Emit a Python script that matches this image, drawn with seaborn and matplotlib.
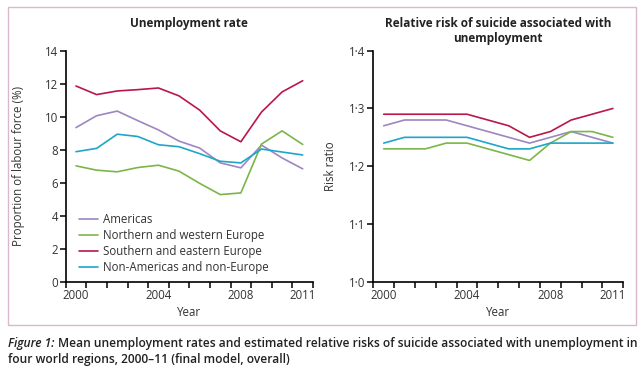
"""
Unemployment rates and relative risk of suicide by world region, 2000-11.
"""
import matplotlib
matplotlib.use("Agg")
import matplotlib.pyplot as plt
import numpy as np
import pandas as pd
import seaborn as sns
from matplotlib import ticker, font_manager
from matplotlib.patches import Rectangle

years = list(range(2000, 2012))
regions = ["Americas", "Northern and western Europe",
           "Southern and eastern Europe", "Non-Americas and non-Europe"]

# unemployment rate (% of labour force)
unemp_americas = [9.34, 10.06, 10.34, 9.76, 9.2, 8.52, 8.1, 7.2, 6.9, 8.28, 7.5, 6.84]
unemp_nw_europe = [7.02, 6.76, 6.66, 6.92, 7.06, 6.7, 5.96, 5.28, 5.38, 8.34, 9.14, 8.32]
unemp_se_europe = [11.86, 11.34, 11.56, 11.64, 11.74, 11.26, 10.4, 9.14, 8.48, 10.28, 11.5, 12.18]
unemp_other = [7.88, 8.08, 8.94, 8.8, 8.3, 8.18, 7.76, 7.3, 7.2, 8.04, 7.86, 7.68]

# relative risk of suicide associated with unemployment
rr_americas = [1.27, 1.28, 1.28, 1.28, 1.27, 1.26, 1.25, 1.24, 1.25, 1.26, 1.25, 1.24]
rr_nw_europe = [1.23, 1.23, 1.23, 1.24, 1.24, 1.23, 1.22, 1.21, 1.24, 1.26, 1.26, 1.25]
rr_se_europe = [1.29, 1.29, 1.29, 1.29, 1.29, 1.28, 1.27, 1.25, 1.26, 1.28, 1.29, 1.30]
rr_other = [1.24, 1.25, 1.25, 1.25, 1.25, 1.24, 1.23, 1.23, 1.24, 1.24, 1.24, 1.24]

year_labels = [2000, 2004, 2008, 2011]
colors = ["#9e86c0", "#7ab648", "#b8174a", "#1ea6c8"]


def _long(series):
    rows = []
    for reg, vals in zip(regions, series):
        for y, v in zip(years, vals):
            rows.append({"year": y, "value": v, "region": reg})
    return pd.DataFrame(rows)


unemp = _long([unemp_americas, unemp_nw_europe, unemp_se_europe, unemp_other])
risk = _long([rr_americas, rr_nw_europe, rr_se_europe, rr_other])

sns.set_theme(style="white")
plt.rcParams["font.family"] = ["Open Sans", "DejaVu Sans"]
plt.rcParams["axes.unicode_minus"] = False

installed = {f.name for f in font_manager.fontManager.ttflist}
cap_family = "Liberation Sans Narrow" if "Liberation Sans Narrow" in installed else "Open Sans"

W, H = 640, 374
fig = plt.figure(figsize=(W / 100, H / 100), dpi=100)


def px_axes(x0, y0, x1, y1):
    return fig.add_axes([x0 / W, 1 - y1 / H, (x1 - x0) / W, (y1 - y0) / H])


ax1 = px_axes(65.7, 50.7, 313, 281.7)
ax2 = px_axes(373.3, 50.7, 623.3, 281.7)
pal = dict(zip(regions, colors))

sns.lineplot(data=unemp, x="year", y="value", hue="region", palette=pal,
             hue_order=regions, lw=1.2, ax=ax1)
sns.lineplot(data=risk, x="year", y="value", hue="region", palette=pal,
             hue_order=regions, lw=1.2, ax=ax2, legend=False)

for ax in (ax1, ax2):
    ax.set_xlim(1999.5, 2011.5)
    ax.xaxis.set_major_locator(ticker.FixedLocator(np.arange(1999.5, 2012, 1)))
    ax.xaxis.set_major_formatter(ticker.NullFormatter())
    ax.xaxis.set_minor_locator(ticker.FixedLocator(year_labels))
    ax.xaxis.set_minor_formatter(ticker.FixedFormatter([str(y) for y in year_labels]))
    ax.tick_params(axis="x", which="major", direction="out", length=4, width=1.1,
                   color="black", bottom=True)
    ax.tick_params(axis="x", which="minor", length=0, pad=5, labelsize=8.3,
                   labelcolor="#333333", bottom=True)
    ax.tick_params(axis="y", direction="out", length=4, width=1.1, color="black",
                   left=True, labelsize=8.3, labelcolor="#333333", pad=1.5)
    for side in ("top", "right"):
        ax.spines[side].set_visible(False)
    for side in ("left", "bottom"):
        ax.spines[side].set_color("black")
        ax.spines[side].set_linewidth(1.2)
    ax.set_xlabel("Year", fontsize=8.3, color="#333333")
    ax.xaxis.set_label_coords(0.5, -0.105)
    ax.xaxis.label.set_va("top")

ax1.set_ylim(0, 14)
ax1.set_yticks(np.arange(0, 15, 2))
ax1.set_ylabel("Proportion of labour force (%)", fontsize=8.3, color="#333333")
ax1.yaxis.set_label_coords(-0.165, 0.5)

ax2.set_ylim(1.0, 1.4)
ax2.set_yticks([1.0, 1.1, 1.2, 1.3, 1.4])
ax2.yaxis.set_major_formatter(ticker.FuncFormatter(lambda v, p: f"{v:.1f}".replace(".", "\u00b7")))
ax2.set_ylabel("Risk ratio", fontsize=8.3, color="#333333")
ax2.yaxis.set_label_coords(-0.145, 0.5)

ax1.text(0.5, 1.146, "Unemployment rate", transform=ax1.transAxes, ha="center",
         va="top", fontsize=8.5, fontweight="bold", color="#222222")
ax2.text(0.5, 1.146, "Relative risk of suicide associated with\nunemployment",
         transform=ax2.transAxes, ha="center", va="top", fontsize=8.5,
         fontweight="bold", color="#222222", linespacing=1.25)

leg = ax1.legend(loc="lower left", bbox_to_anchor=(0.02, 0.0), frameon=False,
                 fontsize=8.3, handlelength=1.65, handletextpad=0.45,
                 labelspacing=0.25, borderaxespad=0.3)
for t in leg.get_texts():
    t.set_color("#333333")

# pink frame round the two panels
fig.add_artist(Rectangle((8 / W, 1 - 325 / H), 628 / W, 318 / H, transform=fig.transFigure,
                         fill=False, edgecolor="#d9b8cc", lw=1.0))

# caption, scaled so line 1 spans the frame width
cap_y1 = 1 - 343 / H
cap_kw = dict(family=cap_family, fontweight="semibold", color="#222222", va="center")
cap_rest = ("Mean unemployment rates and estimated relative risks of suicide "
            "associated with unemployment in")
t1 = fig.text(8 / W, cap_y1, "Figure 1:", fontsize=10, style="italic", **cap_kw)
t2 = fig.text(0, cap_y1, cap_rest, fontsize=10, **cap_kw)
t3 = fig.text(8 / W, 1 - 360 / H, "four world regions, 2000\u201311 (final model, overall)",
              fontsize=10, **cap_kw)
r = fig.canvas.get_renderer()
gap = 3
total = t1.get_window_extent(r).width + gap + t2.get_window_extent(r).width
size = 10 * 626 / total
for t in (t1, t2, t3):
    t.set_fontsize(size)
t2.set_x((8 + t1.get_window_extent(r).width + gap) / W)

fig.savefig("out.png", dpi=100)
